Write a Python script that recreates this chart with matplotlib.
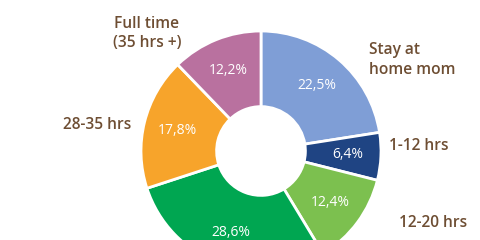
import matplotlib
matplotlib.use("Agg")
import matplotlib.pyplot as plt

categories = ["Stay at\nhome mom", "1-12 hrs", "12-20 hrs", "20-28 hrs", "28-35 hrs", "Full time\n(35 hrs +)"]
values = [22.5, 6.4, 12.4, 28.6, 17.8, 12.2]
colors = ["#7F9ED6", "#1F4483", "#7CC04F", "#00A651", "#F7A42B", "#B9719F"]
show_label = [True, True, True, False, True, True]
# label anchor positions (axes data units, radius=1) and alignment
label_pos = [(0.9, 0.76), (1.07, 0.04), (1.15, -0.6), (0, 0), (-1.65, 0.22), (-0.95, 0.98)]
label_ha = ["left", "left", "left", "center", "left", "center"]

W, H, DPI = 480, 240, 100
fig = plt.figure(figsize=(W / DPI, H / DPI), dpi=DPI)
cx, cy, R = 261, 240 - 151, 120
ax = fig.add_axes([(cx - R) / W, (cy - R) / H, 2 * R / W, 2 * R / H])
ax.set_xlim(-1, 1)
ax.set_ylim(-1, 1)
ax.axis("off")

def fmt(p):
    return ("%.1f%%" % p).replace(".", ",")

wedges, texts, autotexts = ax.pie(
    values, colors=colors, startangle=90, counterclock=False, radius=1,
    autopct=fmt, pctdistance=0.72,
    wedgeprops=dict(width=0.63, edgecolor="white", linewidth=2),
    textprops=dict(color="white", fontsize=10, family="Open Sans"),
)
ax.set_xlim(-1, 1)
ax.set_ylim(-1, 1)

for lab, show, pos, ha in zip(categories, show_label, label_pos, label_ha):
    if show:
        ax.text(pos[0], pos[1], lab, ha=ha, va="center", fontsize=11.2,
                color="#6E4E33", family="Open Sans", fontweight="semibold",
                linespacing=1.3, clip_on=False)

fig.savefig("out.png", dpi=DPI)
